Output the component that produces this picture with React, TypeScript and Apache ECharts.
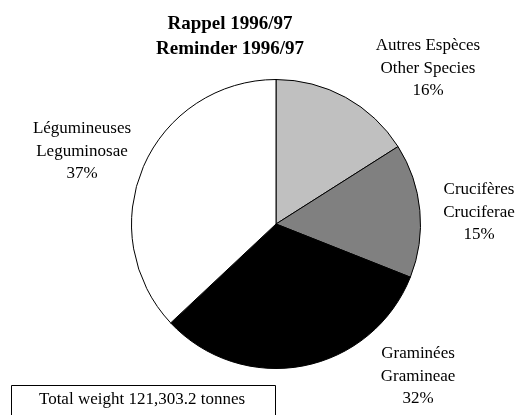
import React, { useEffect, useRef } from "react";
import * as echarts from "echarts";

const categories = [
  "Autres Espèces\nOther Species",
  "Crucifères\nCruciferae",
  "Graminées\nGramineae",
  "Légumineuses\nLeguminosae",
];
const shares = [16, 15, 32, 37];
const sliceColors = ["#c0c0c0", "#808080", "#000000", "#ffffff"];
const titleLines = ["Rappel 1996/97", "Reminder 1996/97"];
const totalText = "Total weight 121,303.2 tonnes";
// label block centres (x, y) in px, as placed in the reference
const labelCentres: [number, number][] = [
  [428, 67],
  [479, 211],
  [418, 375],
  [82, 150],
];

const FONT = "Liberation Serif";

export default function App() {
  const ref = useRef<HTMLDivElement>(null);
  useEffect(() => {
    if (!ref.current) return;
    const chart = echarts.init(ref.current, null, { renderer: "svg" });
    chart.setOption({
      animation: false,
      graphic: [
        {
          type: "text",
          x: 230,
          y: 34.5,
          style: {
            text: titleLines.join("\n"),
            fontFamily: FONT,
            fontSize: 19,
            fontWeight: "bold",
            lineHeight: 25,
            fill: "#000",
            align: "center",
            verticalAlign: "middle",
          },
        },
        {
          type: "rect",
          shape: { x: 11.5, y: 385.5, width: 264, height: 40 },
          style: { fill: "#fff", stroke: "#000", lineWidth: 1 },
        },
        {
          type: "text",
          x: 142,
          y: 398.5,
          style: {
            text: totalText,
            fontFamily: FONT,
            fontSize: 17,
            fill: "#000",
            align: "center",
            verticalAlign: "middle",
          },
        },
      ],
      series: [
        {
          type: "pie",
          center: [276, 224],
          radius: 144.5,
          startAngle: 90,
          clockwise: true,
          avoidLabelOverlap: false,
          itemStyle: { borderColor: "#000", borderWidth: 1 },
          emphasis: { disabled: true },
          label: {
            show: true,
            position: "outside",
            fontFamily: FONT,
            fontSize: 17,
            lineHeight: 22.5,
            color: "#000",
            align: "center",
            formatter: (p: any) => `${p.name}\n${Math.round(p.percent)}%`,
          },
          labelLine: { show: false },
          labelLayout: (params: any) => {
            const c = labelCentres[params.dataIndex];
            return { x: c[0], y: c[1], align: "center", verticalAlign: "middle" };
          },
          data: categories.map((name, i) => ({
            name,
            value: shares[i],
            itemStyle: { color: sliceColors[i] },
          })),
        },
      ],
    });
    return () => chart.dispose();
  }, []);
  return (
    <div
      ref={ref}
      style={{ position: "fixed", left: 0, top: 0, width: 520, height: 415 }}
    />
  );
}
